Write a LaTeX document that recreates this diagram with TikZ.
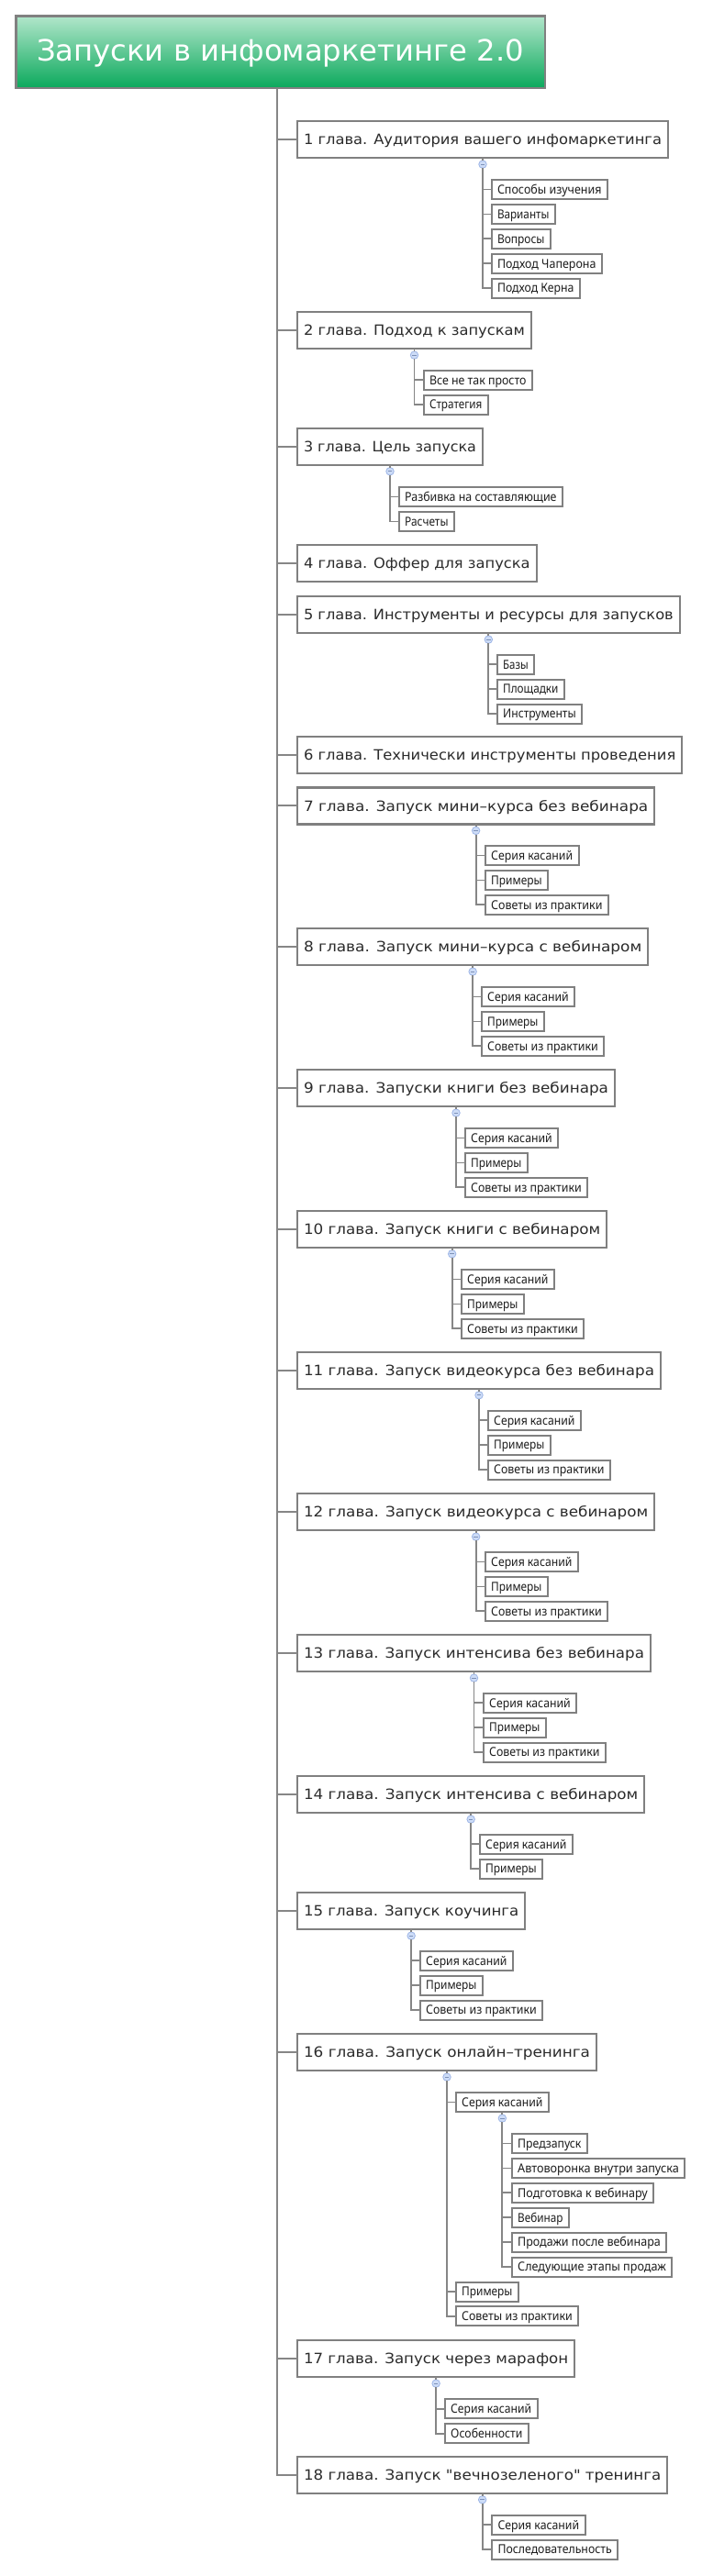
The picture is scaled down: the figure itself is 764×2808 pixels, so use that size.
\documentclass[tikz,border=0pt]{standalone}
\usepackage{fontspec}
\setmainfont{DejaVu Sans}[Ligatures=TeXOff]
\newfontfamily\subfont{Noto Sans}
\usepackage{graphicx}
\newlength\natw
\newcommand\fitto[2]{\settowidth\natw{#2}\pgfmathsetmacro\fitr{(#1)/\natw}\scalebox{\fitr}[1]{#2}}
\definecolor{boxgray}{HTML}{808080}
\definecolor{linegray}{HTML}{868686}
\definecolor{chaptext}{HTML}{2B2B2B}
\definecolor{subtext}{HTML}{1E1E1E}
\definecolor{knobfill}{HTML}{CDDCF7}
\definecolor{knobedge}{HTML}{9DB5E6}
\definecolor{titletop}{HTML}{B2E6CB}
\definecolor{titlebot}{HTML}{0BA95C}
\tikzset{
  titlebox/.style={draw=boxgray, line width=2.5pt, top color=titletop, bottom color=titlebot,
    inner sep=0pt, outer sep=0pt, minimum width=576.5pt, minimum height=78.5pt,
    font=\fontsize{32}{36}\selectfont, text=white, text height=23pt, text depth=4pt},
  chapbox/.style={draw=boxgray, line width=2.2pt, fill=white, anchor=north west,
    inner sep=0pt, outer sep=0pt, minimum height=40pt,
    font=\fontsize{15.5}{18}\selectfont, text=chaptext, text height=11.3pt, text depth=0pt},
  subbox/.style={draw=boxgray, line width=2pt, fill=white, anchor=north west,
    inner sep=0pt, outer sep=0pt, minimum height=21pt,
    font=\subfont\fontsize{13.5}{16}\selectfont, text=subtext, text height=9.7pt, text depth=0pt},
  conn/.style={draw=linegray, line width=2pt},
  subconn/.style={draw=linegray, line width=1.8pt},
  knob/.style={circle, draw=knobedge, fill=knobfill, line width=0.8pt, minimum size=8.5pt, inner sep=0pt, outer sep=0pt},
  minus/.style={draw=knobedge!80!black, line width=0.8pt}
}
% chapter: name, top, right, text
\newcommand\chap[4]{\node[chapbox, minimum width={#3-323-2}] (#1) at (324,{-(#2)-1.1}) {\fitto{#3-323-16}{#4}};}
% sub item: name, left, top, right, text
\newcommand\sub[5]{\node[subbox, minimum width={#4-#2-2}] (#1) at ({#2+1},{-(#3)-1}) {\fitto{#4-#2-15}{#5}};}
% knob under a node
\newcommand\knob[2]{\node[knob] (#1) at ([yshift=-7pt]#2.south) {};
  \draw[minus] ([xshift=-2.2pt]#1.center) -- ([xshift=2.2pt]#1.center);}
\begin{document}
\begin{tikzpicture}[x=1pt,y=1pt]
\useasboundingbox (0,0) rectangle (764,-2808);
\fill[white] (0,0) rectangle (764,-2808);

\node[titlebox] (title) at (305.5,-56.5) {\fitto{531}{Запуски в инфомаркетинге 2.0}};

\chap{c1}{131}{729}{1 глава. Аудитория вашего инфомаркетинга}
\chap{c2}{339}{580}{2 глава. Подход к запускам}
\chap{c3}{465.7}{527}{3 глава. Цель запуска}
\chap{c4}{592.7}{585.7}{4 глава. Оффер для запуска}
\chap{c5}{649}{741.7}{5 глава. Инструменты и ресурсы для запусков}
\chap{c6}{801.7}{744.3}{6 глава. Технически инструменты проведения}
\chap{c7}{857.3}{714.3}{7 глава. Запуск мини–курса без вебинара}
\chap{c8}{1011}{707.3}{8 глава. Запуск мини–курса с вебинаром}
\chap{c9}{1165}{671}{9 глава. Запуски книги без вебинара}
\chap{c10}{1318.7}{662.3}{10 глава. Запуск книги с вебинаром}
\chap{c11}{1472.7}{721}{11 глава. Запуск видеокурса без вебинара}
\chap{c12}{1627}{714.3}{12 глава. Запуск видеокурса с вебинаром}
\chap{c13}{1781}{710}{13 глава. Запуск интенсива без вебинара}
\chap{c14}{1935}{703.3}{14 глава. Запуск интенсива с вебинаром}
\chap{c15}{2062}{573.3}{15 глава. Запуск коучинга}
\chap{c16}{2216}{651}{16 глава. Запуск онлайн–тренинга}
\chap{c17}{2550}{627.3}{17 глава. Запуск через марафон}
\chap{c18}{2676.7}{728.3}{18 глава. Запуск "вечнозеленого" тренинга}

% spine
\draw[conn] ([xshift=-3.5]title.south) |- (c18.west);
\foreach \c in {c1,c2,c3,c4,c5,c6,c7,c8,c9,c10,c11,c12,c13,c14,c15,c16,c17}
  \draw[conn] (\c.west) -- ++(-22,0);

% chapter 1
\sub{s1a}{534.5}{195}{663}{Способы изучения}
\sub{s1b}{534.5}{221.9}{606}{Варианты}
\sub{s1c}{534.5}{248.8}{601}{Вопросы}
\sub{s1d}{534.5}{275.7}{657}{Подход Чаперона}
\sub{s1e}{534.5}{302.6}{633}{Подход Керна}
\knob{k1}{c1}
\draw[subconn] (c1.south) -- (k1);
\draw[subconn] (k1) |- (s1e.west);
\foreach \s in {s1a,s1b,s1c,s1d} \draw[subconn] (\s.west) -- (\s.west -| k1);

% chapter 2
\sub{s2a}{460.5}{402.7}{581}{Все не так просто}
\sub{s2b}{460.5}{429.6}{533}{Стратегия}
\knob{k2}{c2}
\draw[subconn] (c2.south) -- (k2);
\draw[subconn] (k2) |- (s2b.west);
\draw[subconn] (s2a.west) -- (s2a.west -| k2);

% chapter 3
\sub{s3a}{433.7}{530}{614}{Разбивка на составляющие}
\sub{s3b}{433.7}{556.9}{496}{Расчеты}
\knob{k3}{c3}
\draw[subconn] (c3.south) -- (k3);
\draw[subconn] (k3) |- (s3b.west);
\draw[subconn] (s3a.west) -- (s3a.west -| k3);

% chapter 5
\sub{s5a}{540.7}{712.7}{583.3}{Базы}
\sub{s5b}{540.7}{739.6}{616}{Площадки}
\sub{s5c}{540.7}{766.5}{635.3}{Инструменты}
\knob{k5}{c5}
\draw[subconn] (c5.south) -- (k5);
\draw[subconn] (k5) |- (s5c.west);
\foreach \s in {s5a,s5b} \draw[subconn] (\s.west) -- (\s.west -| k5);

% chapter 7
\sub{s7a}{527.7}{921}{631.7}{Серия касаний}
\sub{s7b}{527.7}{947.9}{598.3}{Примеры}
\sub{s7c}{527.7}{974.8}{664}{Советы из практики}
\knob{k7}{c7}
\draw[subconn] (c7.south) -- (k7);
\draw[subconn] (k7) |- (s7c.west);
\foreach \s in {s7a,s7b} \draw[subconn] (\s.west) -- (\s.west -| k7);

% chapter 8
\sub{s8a}{523.7}{1075}{627.3}{Серия касаний}
\sub{s8b}{523.7}{1101.9}{594}{Примеры}
\sub{s8c}{523.7}{1128.8}{659.3}{Советы из практики}
\knob{k8}{c8}
\draw[subconn] (c8.south) -- (k8);
\draw[subconn] (k8) |- (s8c.west);
\foreach \s in {s8a,s8b} \draw[subconn] (\s.west) -- (\s.west -| k8);

% chapter 9
\sub{s9a}{505.7}{1229}{609.3}{Серия касаний}
\sub{s9b}{505.7}{1255.9}{576}{Примеры}
\sub{s9c}{505.7}{1282.8}{641.3}{Советы из практики}
\knob{k9}{c9}
\draw[subconn] (c9.south) -- (k9);
\draw[subconn] (k9) |- (s9c.west);
\foreach \s in {s9a,s9b} \draw[subconn] (\s.west) -- (\s.west -| k9);

% chapter 10
\sub{s10a}{501.7}{1383}{605}{Серия касаний}
\sub{s10b}{501.7}{1409.9}{572}{Примеры}
\sub{s10c}{501.7}{1436.8}{637.3}{Советы из практики}
\knob{k10}{c10}
\draw[subconn] (c10.south) -- (k10);
\draw[subconn] (k10) |- (s10c.west);
\foreach \s in {s10a,s10b} \draw[subconn] (\s.west) -- (\s.west -| k10);

% chapter 11
\sub{s11a}{530.7}{1536.7}{634}{Серия касаний}
\sub{s11b}{530.7}{1563.6}{601}{Примеры}
\sub{s11c}{530.7}{1590.5}{666}{Советы из практики}
\knob{k11}{c11}
\draw[subconn] (c11.south) -- (k11);
\draw[subconn] (k11) |- (s11c.west);
\foreach \s in {s11a,s11b} \draw[subconn] (\s.west) -- (\s.west -| k11);

% chapter 12
\sub{s12a}{527.7}{1691}{631}{Серия касаний}
\sub{s12b}{527.7}{1717.9}{598}{Примеры}
\sub{s12c}{527.7}{1744.8}{663.3}{Советы из практики}
\knob{k12}{c12}
\draw[subconn] (c12.south) -- (k12);
\draw[subconn] (k12) |- (s12c.west);
\foreach \s in {s12a,s12b} \draw[subconn] (\s.west) -- (\s.west -| k12);

% chapter 13
\sub{s13a}{525.7}{1844.7}{629.3}{Серия касаний}
\sub{s13b}{525.7}{1871.6}{596}{Примеры}
\sub{s13c}{525.7}{1898.5}{661}{Советы из практики}
\knob{k13}{c13}
\draw[subconn] (c13.south) -- (k13);
\draw[subconn] (k13) |- (s13c.west);
\foreach \s in {s13a,s13b} \draw[subconn] (\s.west) -- (\s.west -| k13);

% chapter 14
\sub{s14a}{521.7}{1998.7}{625}{Серия касаний}
\sub{s14b}{521.7}{2025.6}{592.3}{Примеры}
\knob{k14}{c14}
\draw[subconn] (c14.south) -- (k14);
\draw[subconn] (k14) |- (s14b.west);
\draw[subconn] (s14a.west) -- (s14a.west -| k14);

% chapter 15
\sub{s15a}{456.7}{2125.7}{560}{Серия касаний}
\sub{s15b}{456.7}{2152.6}{527}{Примеры}
\sub{s15c}{456.7}{2179.5}{592.3}{Советы из практики}
\knob{k15}{c15}
\draw[subconn] (c15.south) -- (k15);
\draw[subconn] (k15) |- (s15c.west);
\foreach \s in {s15a,s15b} \draw[subconn] (\s.west) -- (\s.west -| k15);

% chapter 16
\sub{s16a}{495.7}{2280}{599}{Серия касаний}
\sub{g1}{556.7}{2325}{641}{Предзапуск}
\sub{g2}{556.7}{2351.9}{747.3}{Автоворонка внутри запуска}
\sub{g3}{556.7}{2378.8}{713.3}{Подготовка к вебинару}
\sub{g4}{556.7}{2405.7}{621}{Вебинар}
\sub{g5}{556.7}{2432.6}{727.3}{Продажи после вебинара}
\sub{g6}{556.7}{2459.5}{733.3}{Следующие этапы продаж}
\sub{s16b}{495.7}{2486.5}{566}{Примеры}
\sub{s16c}{495.7}{2513.4}{631.3}{Советы из практики}
\knob{k16}{c16}
\draw[subconn] (c16.south) -- (k16);
\draw[subconn] (k16) |- (s16c.west);
\foreach \s in {s16a,s16b} \draw[subconn] (\s.west) -- (\s.west -| k16);
\knob{k16a}{s16a}
\draw[subconn] (s16a.south) -- (k16a);
\draw[subconn] (k16a) |- (g6.west);
\foreach \s in {g1,g2,g3,g4,g5} \draw[subconn] (\s.west) -- (\s.west -| k16a);

% chapter 17
\sub{s17a}{483.7}{2614.3}{586.7}{Серия касаний}
\sub{s17b}{483.7}{2641.2}{577}{Особенности}
\knob{k17}{c17}
\draw[subconn] (c17.south) -- (k17);
\draw[subconn] (k17) |- (s17b.west);
\draw[subconn] (s17a.west) -- (s17a.west -| k17);

% chapter 18
\sub{s18a}{535}{2740.7}{638.7}{Серия касаний}
\sub{s18b}{535}{2767.6}{674.3}{Последовательность}
\knob{k18}{c18}
\draw[subconn] (c18.south) -- (k18);
\draw[subconn] (k18) |- (s18b.west);
\draw[subconn] (s18a.west) -- (s18a.west -| k18);
\end{tikzpicture}
\end{document}
